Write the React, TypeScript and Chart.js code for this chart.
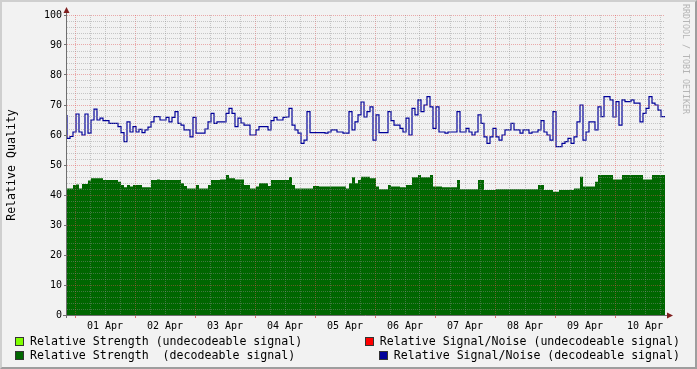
import React, { useEffect, useRef } from 'react';
import { Chart, registerables } from 'chart.js';

Chart.register(...registerables);

// time axis: hours relative to 01 Apr 00:00
const START_HOURS = -3.2;
const STEP_HOURS = 1.2;
const END_HOURS = 236;
const GRID_STEP_HOURS = 6;

const dayLabels = ['01 Apr', '02 Apr', '03 Apr', '04 Apr', '05 Apr', '06 Apr', '07 Apr', '08 Apr', '09 Apr', '10 Apr'];

const yTickLabels = ['0', '10', '20', '30', '40', '50', '60', '70', '80', '90', '100'];

// Relative Signal/Noise (decodeable signal)
const snrDecodeable = [
  66.7, 58.9, 59.5, 61, 67, 61, 60, 67, 60.6, 65,
  68.6, 65, 65.6, 64.8, 64.8, 63.9, 63.9, 63.9, 62.8, 60.8,
  57.8, 64.4, 61, 62.8, 61, 61.9, 60.8, 61.7, 62.6, 64.4,
  66.1, 66.1, 65, 65, 65.9, 64.4, 65.9, 67.8, 63.9, 63.3,
  61.7, 61.7, 59.4, 65.9, 60.6, 60.6, 60.6, 62, 64.4, 67.2,
  63.9, 64.4, 64.4, 64.4, 67.2, 68.9, 67.2, 62.8, 65.6, 64,
  63.3, 63.3, 60, 60, 61.7, 62.8, 62.8, 62.8, 61.7, 64.8,
  65.9, 65, 65, 65.9, 66, 68.9, 63.3, 61.7, 60.6, 57.2,
  58.3, 67.8, 60.8, 60.8, 60.8, 60.8, 60.8, 60.6, 61, 61.7,
  61.7, 61, 61, 60.6, 60.6, 67.8, 61.7, 64.4, 66.7, 71,
  66, 67.8, 69.4, 58.3, 66.7, 60.8, 60.8, 60.8, 67.8, 64.8,
  63.3, 63.3, 62.2, 61, 65.6, 60, 68.9, 66.7, 71.7, 67.8,
  70, 72.8, 69.4, 62.2, 69.4, 61, 61, 60.6, 61, 61,
  61, 67.8, 61, 61, 62.2, 61, 60, 61, 66.7, 63.9,
  59.4, 57.2, 59.4, 62.2, 59.4, 58.3, 60, 61.7, 61.7, 63.9,
  61.7, 61.7, 60.6, 61.7, 61.7, 60.6, 61, 61, 61.7, 64.8,
  61, 60, 58.3, 67.8, 56.1, 56.1, 57.2, 57.8, 58.9, 57.2,
  59.4, 64.4, 70, 58.3, 61, 64.4, 64.4, 61.7, 69.4, 66.1,
  72.8, 72.8, 71.7, 66, 71.1, 63.3, 71.7, 71.1, 71.1, 71.7,
  70.6, 70.6, 64.4, 67.2, 68.9, 72.8, 70.6, 70, 68.3, 66.1,
];

// Relative Strength (decodeable signal)
const strengthDecodeable = [
  45.9, 42.2, 42.2, 43.3, 43.5, 42.2, 43.7, 43.7, 44.8, 45.6,
  45.6, 45.6, 45.6, 45, 45, 45, 45, 45, 44.4, 43.3,
  42.6, 43.3, 42.8, 43.3, 43.3, 43.3, 42.6, 42.6, 42.6, 45,
  45, 45.2, 45, 45, 45, 45, 45, 45, 45, 43.9,
  43, 42.2, 42.2, 42.2, 43.3, 42.2, 42.2, 42.2, 43.3, 45,
  45, 45, 45.2, 45.2, 46.7, 45.6, 45.6, 45.2, 45.2, 45.2,
  43.3, 43.3, 42.2, 42.2, 42.8, 43.9, 43.9, 43.9, 43, 45,
  45, 45, 45, 45, 45, 46, 43.3, 42.2, 42.2, 42.2,
  42.2, 42.2, 42.2, 43, 43, 42.8, 42.8, 42.8, 42.8, 42.8,
  42.8, 42.8, 42.8, 42.8, 42.2, 43.9, 45.9, 43.9, 45, 46.1,
  46.1, 46.1, 45.6, 45.6, 42.8, 41.9, 41.9, 41.9, 43.3, 42.8,
  42.8, 42.8, 42.6, 42.6, 43.3, 43.3, 45.9, 45.9, 46.7, 45.9,
  45.9, 45.9, 46.7, 42.8, 42.8, 42.8, 42.6, 42.6, 42.6, 42.6,
  42.6, 45, 41.9, 41.9, 41.9, 41.9, 41.9, 41.9, 45, 45,
  41.7, 41.7, 41.7, 41.7, 41.9, 41.9, 41.9, 41.9, 41.9, 41.9,
  41.9, 41.9, 41.9, 41.9, 41.9, 41.9, 41.9, 41.9, 43.3, 43.3,
  41.7, 41.7, 41.7, 41.1, 41.1, 41.7, 41.7, 41.7, 41.7, 41.7,
  42.2, 42.2, 46.1, 42.8, 42.8, 42.8, 42.8, 44.4, 46.7, 46.7,
  46.7, 46.7, 46.7, 45.2, 45.2, 45.2, 46.7, 46.7, 46.7, 46.7,
  46.7, 46.7, 46.7, 45.2, 45.2, 45.2, 46.7, 46.7, 46.7, 46.7,
];

// undecodeable series carry no data in this period
const strengthUndecodeable: number[] = [];
const snrUndecodeable: number[] = [];

const legendItems = [
  { label: 'Relative Strength (undecodeable signal)', color: '#7fff00' },
  { label: 'Relative Signal/Noise (undecodeable signal)', color: '#ff0000' },
  { label: 'Relative Strength  (decodeable signal)', color: '#006600' },
  { label: 'Relative Signal/Noise (decodeable signal)', color: '#000099' },
];

const MONO = "'DejaVu Sans Mono', monospace";
const MINOR_GRID = 'rgba(143,143,143,0.45)';
const MAJOR_GRID = 'rgba(222,79,79,0.45)';
const ARROW = '#801f1f';
const AXIS = '#6f6f6f';

function toPoints(values: number[]) {
  const pts = values.map((v, i) => ({ x: START_HOURS + i * STEP_HOURS, y: v }));
  if (values.length) pts.push({ x: END_HOURS, y: values[values.length - 1] });
  return pts;
}

const axesPlugin = {
  id: 'rrdAxes',
  afterDraw(chart: any) {
    const { ctx, chartArea } = chart;
    const { left, right, top, bottom } = chartArea;
    ctx.save();
    ctx.strokeStyle = AXIS;
    ctx.lineWidth = 1;
    ctx.beginPath();
    ctx.moveTo(left - 0.5, bottom + 3);
    ctx.lineTo(left - 0.5, top - 3);
    ctx.moveTo(left - 4, bottom + 0.5);
    ctx.lineTo(right + 3, bottom + 0.5);
    ctx.stroke();
    ctx.fillStyle = ARROW;
    ctx.beginPath();
    ctx.moveTo(left - 0.5, top - 8);
    ctx.lineTo(left - 3.5, top - 2);
    ctx.lineTo(left + 2.5, top - 2);
    ctx.closePath();
    ctx.fill();
    ctx.beginPath();
    ctx.moveTo(right + 8, bottom + 0.5);
    ctx.lineTo(right + 2, bottom - 2.5);
    ctx.lineTo(right + 2, bottom + 3.5);
    ctx.closePath();
    ctx.fill();
    ctx.restore();
  },
};

export default function App() {
  const ref = useRef<HTMLCanvasElement | null>(null);

  useEffect(() => {
    if (!ref.current) return;
    const chart = new Chart(ref.current, {
      type: 'line',
      data: {
        datasets: [
          {
            label: legendItems[3].label,
            data: toPoints(snrDecodeable),
            borderColor: '#000099',
            borderWidth: 1.2,
            stepped: 'after',
            pointRadius: 0,
            fill: false,
            order: 0,
          },
          {
            label: legendItems[2].label,
            data: toPoints(strengthDecodeable),
            borderWidth: 0,
            borderColor: 'rgba(0,0,0,0)',
            backgroundColor: '#006600',
            stepped: 'after',
            pointRadius: 0,
            fill: 'origin',
            order: 1,
          },
          {
            label: legendItems[0].label,
            data: toPoints(strengthUndecodeable),
            backgroundColor: '#7fff00',
            pointRadius: 0,
            order: 2,
          },
          {
            label: legendItems[1].label,
            data: toPoints(snrUndecodeable),
            borderColor: '#ff0000',
            pointRadius: 0,
            order: 3,
          },
        ],
      },
      options: {
        responsive: false,
        animation: false,
        devicePixelRatio: 1,
        layout: { padding: { left: 0, right: 32, top: 15, bottom: 34 } },
        plugins: { legend: { display: false }, tooltip: { enabled: false } },
        scales: {
          x: {
            type: 'linear',
            min: START_HOURS,
            max: END_HOURS,
            afterFit: (s: any) => {
              s.height = 20;
              s.paddingLeft = 0;
              s.paddingRight = 0;
            },
            afterBuildTicks: (s: any) => {
              const t: any[] = [];
              for (let h = 0; h <= END_HOURS; h += GRID_STEP_HOURS) t.push({ value: h });
              s.ticks = t;
            },
            ticks: {
              autoSkip: false,
              maxRotation: 0,
              minRotation: 0,
              padding: 2,
              color: '#000',
              font: { family: MONO, size: 10 },
              callback: (v: any) => {
                const n = Number(v);
                return (n - 12) % 24 === 0 ? dayLabels[(n - 12) / 24] : '';
              },
            },
            grid: {
              z: 1,
              lineWidth: 1,
              color: (c: any) => (c.tick && c.tick.value % 24 === 0 ? MAJOR_GRID : MINOR_GRID),
              tickLength: 3,
              tickColor: (c: any) => (c.tick && c.tick.value % 24 === 0 ? 'rgba(222,79,79,0.8)' : 'rgba(0,0,0,0)'),
            },
            border: { display: false, dash: [1, 1] },
          },
          y: {
            min: 0,
            max: 100,
            afterFit: (s: any) => {
              s.width = 67;
            },
            ticks: {
              stepSize: 2,
              autoSkip: false,
              padding: 2,
              color: '#000',
              font: { family: MONO, size: 10 },
              callback: (v: any) => {
                const n = Number(v);
                return n % 10 === 0 ? yTickLabels[n / 10] : '';
              },
            },
            grid: {
              z: 1,
              lineWidth: 1,
              color: (c: any) => (c.tick && c.tick.value % 10 === 0 ? MAJOR_GRID : MINOR_GRID),
              tickLength: 3,
              tickColor: (c: any) => (c.tick && c.tick.value % 10 === 0 ? AXIS : 'rgba(0,0,0,0)'),
            },
            border: { display: false, dash: [1, 1] },
            title: {
              display: true,
              text: 'Relative Quality',
              color: '#000',
              font: { family: MONO, size: 11.6, lineHeight: 1.2 },
              padding: { top: 5, bottom: 0 },
            },
          },
        },
      },
      plugins: [axesPlugin],
    });
    return () => chart.destroy();
  }, []);

  const legendText: React.CSSProperties = {
    position: 'absolute',
    fontFamily: MONO,
    fontSize: '11.6px',
    lineHeight: '14px',
    color: '#000',
    whiteSpace: 'pre',
  };
  const box = (color: string, left: number, top: number): React.CSSProperties => ({
    position: 'absolute',
    left,
    top,
    width: 9,
    height: 9,
    boxSizing: 'border-box',
    border: '1px solid #333',
    background: color,
  });

  return (
    <div style={{ position: 'absolute', left: 0, top: 0, width: 697, height: 369, background: '#f2f2f2', overflow: 'hidden' }}>
      <canvas ref={ref} width={697} height={369} style={{ position: 'absolute', left: 0, top: 0, width: 697, height: 369 }} />
      <div style={{ ...legendText, left: 681, top: 4, fontSize: '8.3px', lineHeight: '10px', color: '#b5b5b5', writingMode: 'vertical-rl' }}>
        RRDTOOL / TOBI OETIKER
      </div>
      <div style={box(legendItems[0].color, 15, 337)} />
      <div style={{ ...legendText, left: 30, top: 334 }}>{legendItems[0].label}</div>
      <div style={box(legendItems[1].color, 365, 337)} />
      <div style={{ ...legendText, right: 17, top: 334 }}>{legendItems[1].label}</div>
      <div style={box(legendItems[2].color, 15, 351)} />
      <div style={{ ...legendText, left: 30, top: 348 }}>{legendItems[2].label}</div>
      <div style={box(legendItems[3].color, 379, 351)} />
      <div style={{ ...legendText, right: 17, top: 348 }}>{legendItems[3].label}</div>
      <div
        style={{
          position: 'absolute',
          left: 0,
          top: 0,
          width: 697,
          height: 369,
          boxSizing: 'border-box',
          borderTop: '2px solid #cfcfcf',
          borderLeft: '2px solid #cfcfcf',
          borderBottom: '2px solid #9e9e9e',
          borderRight: '2px solid #9e9e9e',
          pointerEvents: 'none',
        }}
      />
    </div>
  );
}
